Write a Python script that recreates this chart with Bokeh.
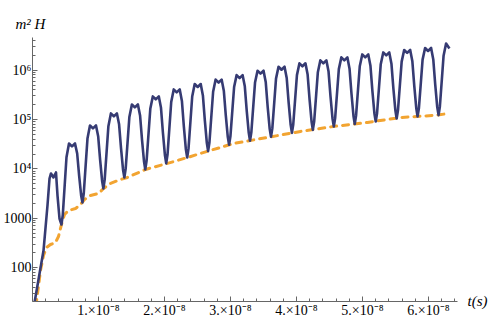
from bokeh.plotting import figure
from bokeh.models import Range1d, FixedTicker, Title, LogAxis
from bokeh.embed import file_html
from bokeh.resources import INLINE

T_UNIT = 1e-8  # times below are in units of 1e-8 s

# m^2 H (oscillating, solid)
blue_t = [0.023, 0.167, 0.227, 0.258, 0.280, 0.318, 0.356, 0.379, 0.409,
          0.439, 0.459, 0.489, 0.515, 0.553, 0.598, 0.644, 0.677, 0.707, 0.737,
          0.757, 0.777, 0.807, 0.833, 0.871, 0.916, 0.962, 0.995, 1.025, 1.055,
          1.074, 1.094, 1.124, 1.150, 1.188, 1.233, 1.279, 1.312, 1.342, 1.372,
          1.392, 1.412, 1.442, 1.468, 1.506, 1.551, 1.597, 1.630, 1.660, 1.690,
          1.709, 1.729, 1.759, 1.785, 1.823, 1.868, 1.914, 1.947, 1.977, 2.007,
          2.026, 2.046, 2.076, 2.102, 2.140, 2.185, 2.231, 2.264, 2.294, 2.324,
          2.344, 2.364, 2.394, 2.420, 2.458, 2.503, 2.549, 2.582, 2.612, 2.642,
          2.661, 2.681, 2.711, 2.737, 2.775, 2.820, 2.866, 2.899, 2.929, 2.959,
          2.979, 2.999, 3.029, 3.055, 3.093, 3.138, 3.184, 3.217, 3.247, 3.277,
          3.296, 3.316, 3.346, 3.372, 3.410, 3.455, 3.501, 3.534, 3.564, 3.594,
          3.614, 3.634, 3.664, 3.690, 3.728, 3.773, 3.819, 3.852, 3.882, 3.912,
          3.931, 3.951, 3.981, 4.007, 4.045, 4.090, 4.136, 4.169, 4.199, 4.229,
          4.248, 4.268, 4.298, 4.324, 4.362, 4.407, 4.453, 4.486, 4.516, 4.546,
          4.566, 4.586, 4.616, 4.642, 4.680, 4.725, 4.771, 4.804, 4.834, 4.864,
          4.883, 4.903, 4.933, 4.959, 4.997, 5.042, 5.088, 5.121, 5.151, 5.181,
          5.201, 5.221, 5.251, 5.277, 5.315, 5.360, 5.406, 5.439, 5.469, 5.499,
          5.518, 5.538, 5.568, 5.594, 5.632, 5.677, 5.723, 5.756, 5.786, 5.816,
          5.835, 5.855, 5.885, 5.911, 5.949, 5.994, 6.040, 6.073, 6.103, 6.133,
          6.153, 6.173, 6.203, 6.229, 6.267, 6.318]
blue_h = [17, 221, 1810, 6380, 8070, 6700, 8450, 2880, 986,
          745, 1170, 4940, 17200, 32700, 28500, 32700, 20500, 7190, 2900,
          2080, 3200, 12600, 41100, 75900, 66100, 75900, 46000, 15000, 5690,
          4000, 6100, 23100, 73300, 133000, 116000, 133000, 80000, 25700, 9600,
          6700, 10100, 36800, 113000, 202000, 176000, 202000, 121000, 38100, 14000,
          9730, 14700, 53500, 165000, 294000, 256000, 294000, 173000, 52700, 18800,
          12900, 19500, 72500, 227000, 408000, 356000, 408000, 238000, 71100, 24900,
          17000, 25700, 94500, 293000, 525000, 457000, 525000, 308000, 93800, 33400,
          22900, 34200, 122000, 366000, 646000, 562000, 646000, 385000, 121000, 44500,
          30900, 45600, 157000, 457000, 794000, 692000, 794000, 472000, 147000, 53700,
          37200, 55000, 191000, 561000, 977000, 851000, 977000, 578000, 179000, 64700,
          44700, 66100, 229000, 675000, 1175000, 1023000, 1175000, 695000, 215000, 77800,
          53700, 79300, 272000, 794000, 1380000, 1202000, 1380000, 814000, 250000, 89500,
          61700, 91000, 313000, 912000, 1585000, 1380000, 1585000, 938000, 290000, 105000,
          72400, 107000, 363000, 1052000, 1820000, 1585000, 1820000, 1073000, 329000, 118000,
          81300, 120000, 412000, 1202000, 2089000, 1820000, 2089000, 1227000, 373000, 133000,
          91200, 134000, 457000, 1324000, 2291000, 1995000, 2291000, 1355000, 420000, 152000,
          105000, 154000, 519000, 1493000, 2570000, 2239000, 2570000, 1516000, 465000, 167000,
          115000, 169000, 569000, 1637000, 2818000, 2455000, 2818000, 1656000, 504000, 179000,
          123000, 184000, 653000, 1966000, 3467000, 2754000]

# lower envelope (dashed)
orange_t = [0.053, 0.121, 0.167, 0.212, 0.273, 0.348, 0.394, 0.439, 0.485,
            0.545, 0.652, 0.727, 0.788, 0.879, 1.000, 1.076, 1.182, 1.333,
            1.439, 1.712, 2.045, 2.348, 2.545, 3.045, 3.561, 4.061, 4.561,
            5.076, 5.576, 6.076, 6.318]
orange_h = [17, 87, 175, 255, 293, 321, 426, 745, 1190,
            1430, 1570, 1900, 2390, 2880, 3170, 4000, 5060, 6100,
            6700, 9730, 12900, 17000, 20500, 32700, 43400, 57400, 72400,
            87300, 110000, 121000, 133000]

x_ticks = [1, 2, 3, 4, 5, 6]
x_tick_labels = ["1.×10⁻⁸", "2.×10⁻⁸", "3.×10⁻⁸", "4.×10⁻⁸", "5.×10⁻⁸", "6.×10⁻⁸"]
y_ticks = [100, 1000, 10000, 100000, 1000000]
y_tick_labels = ["100", "1000", "10⁴", "10⁵", "10⁶"]
x_label = "t(s)"
y_label = "m² H"

X_MAX = 6.44
Y_MIN, Y_MAX = 20.5, 4.6e6

p = figure(width=498, height=320, output_backend="svg", toolbar_location=None,
           y_axis_type="log",
           x_range=Range1d(0, X_MAX * T_UNIT), y_range=Range1d(Y_MIN, Y_MAX),
           min_border_left=32, min_border_right=41, min_border_top=37,
           min_border_bottom=19)
p.outline_line_color = None
p.xgrid.visible = False
p.ygrid.visible = False
p.background_fill_color = "white"
p.border_fill_color = "white"

p.line([t * T_UNIT for t in orange_t], orange_h, line_color="#f2a431",
       line_width=3, line_dash="6 6", line_cap="round")
p.line([t * T_UNIT for t in blue_t], blue_h, line_color="#363b73",
       line_width=2.6, line_join="round")

serif = "Liberation Serif"
axis_col = "#666666"

xa = p.xaxis[0]
xa.ticker = FixedTicker(ticks=[t * T_UNIT for t in x_ticks],
                        minor_ticks=[i * 0.2 * T_UNIT for i in range(0, 33)])
xa.major_label_overrides = {t * T_UNIT: lab for t, lab in zip(x_ticks, x_tick_labels)}
ya = p.yaxis[0]
minor_y = [m * 10 ** e for e in range(1, 7) for m in range(2, 10)]
ya.ticker = FixedTicker(ticks=y_ticks, minor_ticks=minor_y)
ya.major_label_overrides = {v: lab for v, lab in zip(y_ticks, y_tick_labels)}

for ax in (xa, ya):
    ax.axis_line_color = axis_col
    ax.axis_line_width = 1
    ax.major_tick_line_color = axis_col
    ax.minor_tick_line_color = axis_col
    ax.major_tick_in = 5
    ax.major_tick_out = 0
    ax.minor_tick_in = 3
    ax.minor_tick_out = 0
    ax.major_label_text_font = serif
    ax.major_label_text_color = "black"
    ax.major_label_text_font_size = "14px"
xa.major_label_standoff = 1
ya.major_label_standoff = 1

# x-axis name: a label-only axis on the right, level with the x axis line
tick_at = Y_MIN * 1.01
ra = LogAxis(ticker=FixedTicker(ticks=[tick_at], minor_ticks=[]),
             major_label_overrides={tick_at: x_label},
             axis_line_color=None, major_tick_line_color=None,
             minor_tick_line_color=None,
             major_tick_in=0, major_tick_out=0, minor_tick_in=0, minor_tick_out=0,
             major_label_standoff=10,
             major_label_text_font=serif, major_label_text_font_style="italic",
             major_label_text_font_size="15px", major_label_text_color="black")
p.add_layout(ra, "right")

# y-axis name above the axis
p.add_layout(Title(text=y_label, align="left", offset=-17, standoff=12,
                   text_font=serif, text_font_style="italic",
                   text_font_size="15px", text_color="black"), "above")

open("out.html", "w").write(file_html(p, INLINE))
